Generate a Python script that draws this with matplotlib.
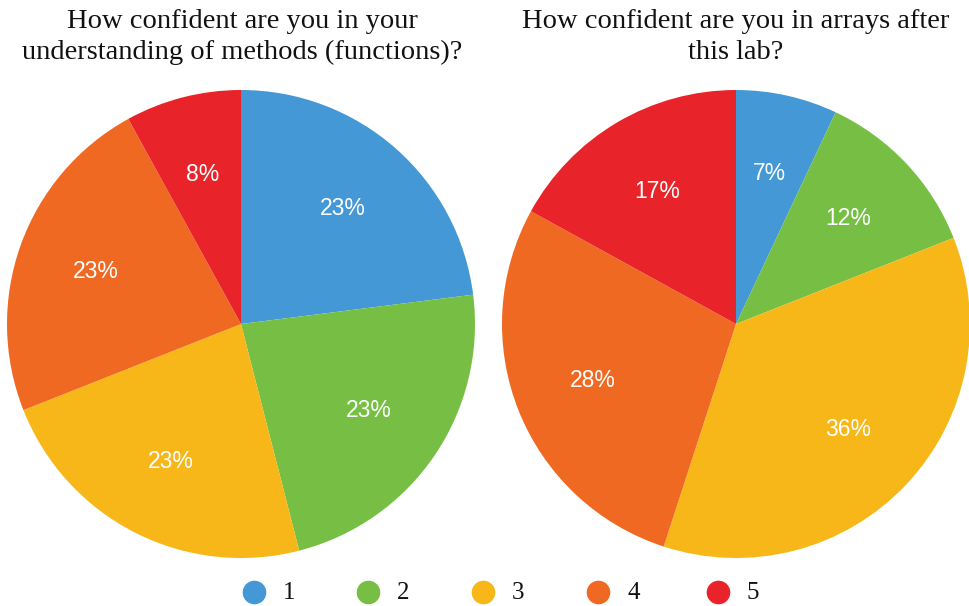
import matplotlib
matplotlib.use("Agg")
import matplotlib.pyplot as plt
from matplotlib.lines import Line2D

categories = ["1", "2", "3", "4", "5"]
colors = ["#4398D5", "#76BF44", "#F7B719", "#F06923", "#E8242A"]

title_left = "How confident are you in your\nunderstanding of methods (functions)?"
values_left = [23, 23, 23, 23, 8]

title_right = "How confident are you in arrays after\nthis lab?"
values_right = [7, 12, 36, 28, 17]

W, H = 970, 606
fig = plt.figure(figsize=(W / 100, H / 100), dpi=100)
fig.patch.set_facecolor("white")

serif = ["Liberation Serif", "DejaVu Serif"]
sans = ["Liberation Sans", "DejaVu Sans"]


def draw_pie(rect, values, title, title_x):
    ax = fig.add_axes(rect)
    wedges, texts, autotexts = ax.pie(
        values,
        colors=colors,
        startangle=90,
        counterclock=False,
        autopct=lambda p: f"{p:.0f}%",
        pctdistance=0.66,
        wedgeprops=dict(linewidth=0),
        textprops=dict(color="white", fontsize=16.5, family=sans),
    )
    ax.set_aspect("equal")
    ax.set_xlim(-1, 1)
    ax.set_ylim(-1, 1)
    ax.axis("off")
    fig.text(title_x / W, 1 - 37 / H, title, ha="center", va="center",
             fontsize=20.5, family=serif, color="#111111", linespacing=1.3)
    return ax


r = 234
draw_pie([(241 - r) / W, (H - 324 - r) / H, 2 * r / W, 2 * r / H],
         values_left, title_left, 242)
draw_pie([(736 - r) / W, (H - 324 - r) / H, 2 * r / W, 2 * r / H],
         values_right, title_right, 736)

# legend row along the bottom
marker_x = [254, 368, 483, 598, 718]
for cx, lab, col in zip(marker_x, categories, colors):
    fig.add_artist(Line2D([cx / W], [1 - 592 / H], marker="o", markersize=17,
                          color=col, markeredgewidth=0, transform=fig.transFigure))
    fig.text((cx + 29) / W, 1 - 593 / H, lab, ha="left", va="center",
             fontsize=18, family=serif, color="#111111")

fig.savefig("out.png", dpi=100, facecolor="white")
